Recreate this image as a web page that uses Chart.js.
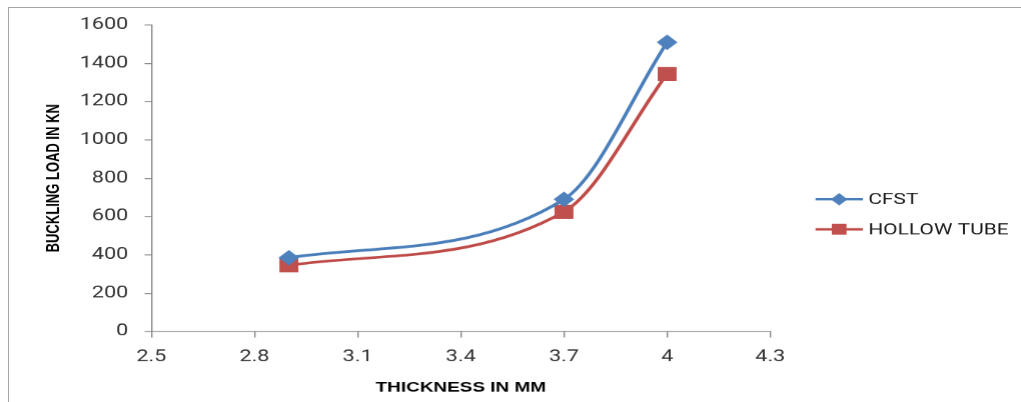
<!DOCTYPE html>
<html>
<head>
<meta charset="utf-8">
<script src="https://cdn.jsdelivr.net/npm/chart.js@4.4.1/dist/chart.umd.min.js"></script>
<style>
  html, body { margin: 0; padding: 0; background: #fff; overflow: hidden; width: 1021px; height: 402px; }
  #frame { position: absolute; left: 8px; top: 7px; right: 0; bottom: 0;
           border-left: 1px solid #a6a6a6; border-top: 1px solid #a6a6a6; }
  /* the chart is laid out on a narrower canvas and widened to the page width */
  #wrap { position: absolute; left: 0; top: 0; width: 756px; height: 402px;
          transform: scaleX(1.3505); transform-origin: 0 0; }
</style>
</head>
<body>
<div id="frame"></div>
<div id="wrap"><canvas id="chart" width="756" height="402" style="width:756px;height:402px"></canvas></div>
<script>
// Wall thickness of the tube (mm)
const thickness = [2.9, 3.7, 4.0];
// Buckling load (kN)
const cfstLoad = [385, 690, 1510];
const hollowLoad = [345, 625, 1345];

const seriesNames = ['CFST', 'HOLLOW TUBE'];
const xTickLabels = ['2.5', '2.8', '3.1', '3.4', '3.7', '4', '4.3'];
const yTickLabels = ['0', '200', '400', '600', '800', '1000', '1200', '1400', '1600'];

const BLUE_LINE = '#4a7ebb', BLUE_MARK = '#4f81bd';
const RED_LINE = '#be4b48', RED_MARK = '#c0504d';
const AXIS = '#868686';
const TICK_FONT = { family: 'Roboto', size: 16 };
const TITLE_FONT = { family: 'Liberation Sans', size: 13, weight: 'bold' };

const toPoints = ys => thickness.map((x, i) => ({ x, y: ys[i] }));

const seriesStyles = [
  { line: BLUE_LINE, mark: BLUE_MARK, pointStyle: 'rectRot', radius: 7, legendRadius: 5.5 },
  { line: RED_LINE, mark: RED_MARK, pointStyle: 'rect', radius: 9.2, legendRadius: 7 }
];

// Legend drawn as a line sample with the marker on it, next to the series name
const lineLegend = {
  id: 'lineLegend',
  afterDraw(chart) {
    const ctx = chart.ctx;
    const x0 = 603.5, x1 = 638.5, xm = 621, xt = 642.5;
    const rows = [199, 229];
    ctx.save();
    seriesNames.forEach((name, i) => {
      const st = seriesStyles[i];
      const y = rows[i];
      ctx.strokeStyle = st.line;
      ctx.lineWidth = 2.5;
      ctx.beginPath();
      ctx.moveTo(x0, y);
      ctx.lineTo(x1, y);
      ctx.stroke();
      ctx.fillStyle = st.mark;
      ctx.strokeStyle = st.mark;
      ctx.lineWidth = 1;
      Chart.helpers.drawPoint(ctx, { pointStyle: st.pointStyle, radius: st.legendRadius, rotation: 0, borderWidth: 1 }, xm, y);
      ctx.fillStyle = '#1a1a1a';
      ctx.font = '15.5px Roboto';
      ctx.textBaseline = 'middle';
      ctx.textAlign = 'left';
      ctx.fillText(name, xt, y + 1);
    });
    ctx.restore();
  }
};

const makeDataset = (label, ys, st) => ({
  label,
  data: toPoints(ys),
  borderColor: st.line,
  borderWidth: 2.75,
  cubicInterpolationMode: 'monotone',
  fill: false,
  pointStyle: st.pointStyle,
  pointRadius: st.radius,
  pointBackgroundColor: st.mark,
  pointBorderColor: st.mark,
  pointBorderWidth: 1
});

new Chart(document.getElementById('chart'), {
  type: 'line',
  data: {
    datasets: [
      makeDataset(seriesNames[0], cfstLoad, seriesStyles[0]),
      makeDataset(seriesNames[1], hollowLoad, seriesStyles[1])
    ]
  },
  options: {
    responsive: false,
    animation: false,
    devicePixelRatio: 1.35,
    layout: { padding: { left: 32, right: 186, top: 25, bottom: 0 } },
    plugins: { legend: { display: false }, tooltip: { enabled: false } },
    scales: {
      x: {
        type: 'linear',
        min: 2.5, max: 4.3,
        ticks: {
          stepSize: 0.3, autoSkip: false, maxRotation: 0, padding: 10,
          color: '#333', font: TICK_FONT,
          callback: (v, i) => xTickLabels[i]
        },
        grid: { drawOnChartArea: false, drawTicks: true, tickLength: 6, color: AXIS },
        border: { color: AXIS, width: 1 },
        title: { display: true, text: 'THICKNESS IN MM', color: '#000', font: { family: 'Liberation Sans', size: 14, weight: 'bold' }, padding: { top: 0, bottom: 6 } },
        afterFit(s) { s.height = 71; }
      },
      y: {
        min: 0, max: 1600,
        ticks: {
          stepSize: 200, padding: 12,
          color: '#333', font: TICK_FONT,
          callback: (v, i) => yTickLabels[i]
        },
        grid: { drawOnChartArea: false, drawTicks: true, tickLength: 5, color: AXIS },
        border: { color: AXIS, width: 1 },
        title: { display: true, text: 'BUCKLING LOAD IN KN', color: '#000', font: TITLE_FONT, padding: 0 },
        afterFit(s) { s.width = 80; }
      }
    }
  },
  plugins: [lineLegend]
});
</script>
</body>
</html>
